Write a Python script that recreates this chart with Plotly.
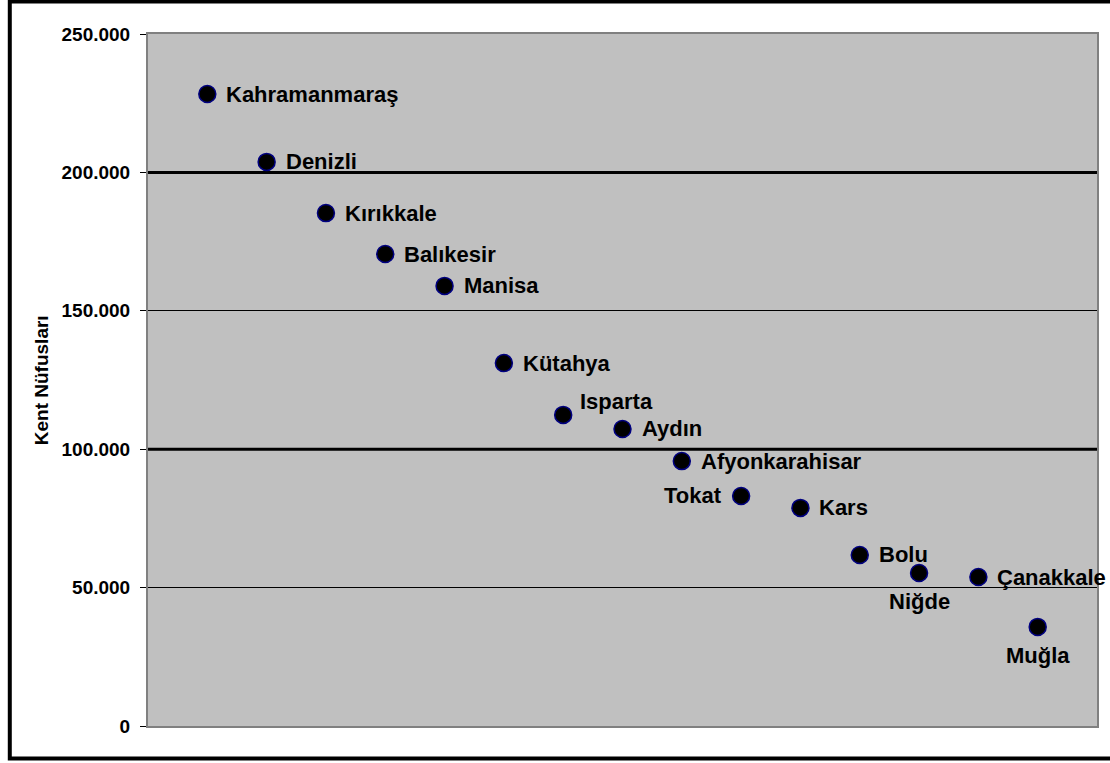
import plotly.graph_objects as go

cities = ["Kahramanmaraş", "Denizli", "Kırıkkale", "Balıkesir", "Manisa", "Kütahya",
          "Isparta", "Aydın", "Afyonkarahisar", "Tokat", "Kars", "Bolu", "Niğde",
          "Çanakkale", "Muğla"]
population = [228300, 203800, 185300, 170500, 159000, 131100, 112400, 107300,
              95700, 83100, 78800, 61800, 55300, 53800, 35800]
label_side = ["right", "right", "right", "right", "right", "right", "upright", "right",
              "right", "left", "right", "right", "below", "right", "below"]
tick_vals = [0, 50000, 100000, 150000, 200000, 250000]
tick_text = ["0", "50.000", "100.000", "150.000", "200.000", "250.000"]
thick_lines = [100000, 200000]

x_idx = list(range(1, len(cities) + 1))

FONT = "Liberation Sans, Arial, sans-serif"

# label placement styles: (xanchor, xshift, yshift)
SIDE_STYLE = {
    "right": ("left", 17, 0),
    "upright": ("left", 15, 13),
    "left": ("right", -17, 0),
    "below": ("center", 0, -29),
}

fig = go.Figure()
fig.add_trace(go.Scatter(
    x=x_idx, y=population, mode="markers",
    marker=dict(size=17, color="black", line=dict(color="#000080", width=1.5)),
    cliponaxis=False, showlegend=False, hoverinfo="skip",
))

for xi, yv, name, side in zip(x_idx, population, cities, label_side):
    xa, xs, ys = SIDE_STYLE[side]
    fig.add_annotation(x=xi, y=yv, text=name, showarrow=False,
                       xanchor=xa, yanchor="middle", xshift=xs, yshift=ys,
                       font=dict(family=FONT, size=22, color="black", weight="bold"))

for v in thick_lines:
    fig.add_shape(type="line", xref="paper", x0=0, x1=1, yref="y", y0=v, y1=v,
                  line=dict(color="black", width=3), layer="below")

L, R, T, B = 148, 11, 34, 37
W, H = 1110, 763
pw, ph = W - L - R, H - T - B

def px(x):
    return (x - L) / pw

def py(y):
    return (H - B - y) / ph

# outer black frame
fig.add_shape(type="rect", xref="paper", yref="paper",
              x0=px(9.5), x1=px(1115), y0=py(1.5), y1=py(758.5),
              line=dict(color="black", width=4), fillcolor="rgba(0,0,0,0)")

fig.add_annotation(text="Kent Nüfusları", xref="paper", yref="paper",
                   x=px(41), y=0.5, xanchor="center", yanchor="middle",
                   textangle=-90, showarrow=False,
                   font=dict(family=FONT, size=19, color="black", weight="bold"))

fig.update_layout(
    width=W, height=H,
    margin=dict(l=L, r=R, t=T, b=B),
    paper_bgcolor="white", plot_bgcolor="#C0C0C0",
    font=dict(family=FONT, color="black"),
    xaxis=dict(range=[0, 16], showticklabels=False, ticks="", showgrid=False,
               zeroline=False, showline=True, mirror=True, linecolor="#808080", linewidth=2),
    yaxis=dict(range=[0, 250000], tickvals=tick_vals, ticktext=tick_text,
               ticks="outside", ticklen=6, tickcolor="black", tickwidth=1,
               ticklabelstandoff=6,
               tickfont=dict(family=FONT, size=19, color="black", weight="bold"),
               showgrid=True, gridcolor="black", gridwidth=1, zeroline=False,
               showline=True, mirror=True, linecolor="#808080", linewidth=2),
)

fig.write_html("out.html", config={"displayModeBar": False},
               post_script="document.body.style.margin='0';document.body.style.padding='0';")
